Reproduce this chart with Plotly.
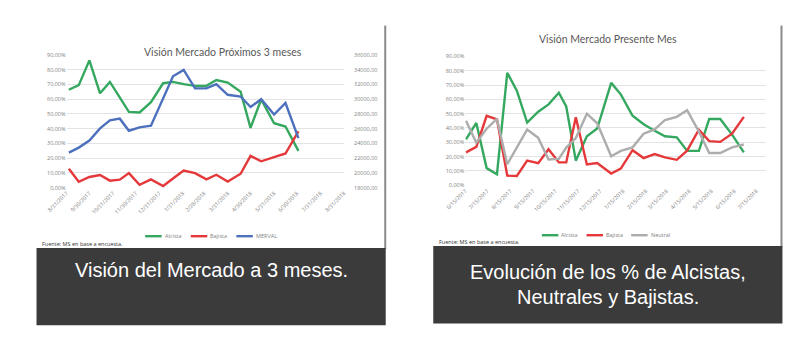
import datetime as dt
import plotly.graph_objects as go

# ---------------- data: market view, next 3 months (left chart) ----------------
dates_3m = ["2017-09-03", "2017-09-16", "2017-09-30", "2017-10-14", "2017-10-27",
            "2017-11-09", "2017-11-21", "2017-12-05", "2017-12-20", "2018-01-05",
            "2018-01-18", "2018-02-01", "2018-02-16", "2018-03-03", "2018-03-16",
            "2018-03-31", "2018-04-17", "2018-04-30", "2018-05-14", "2018-05-31",
            "2018-06-15", "2018-07-02"]
alcista_3m = [66.4, 69.5, 86.3, 64.0, 71.7, 61.5, 51.4, 51.0, 58.0, 70.8, 71.7,
              70.2, 69.0, 69.0, 73.0, 71.3, 65.0, 40.6, 59.8, 43.7, 41.5, 25.0]
bajista_3m = [12.8, 4.0, 7.3, 8.6, 4.8, 5.5, 9.9, 2.0, 5.7, 1.2, 6.3,
              11.7, 9.9, 5.7, 8.8, 4.2, 9.5, 21.6, 17.9, 20.5, 23.2, 38.2]
merval = [22760, 23440, 24400, 26040, 27120, 27360, 25720, 26180, 26400, 30200, 33100,
          33960, 31460, 31460, 32040, 30600, 30360, 28940, 30000, 27920, 29480, 24720]
ticks_3m = ["2017-08-31", "2017-09-30", "2017-10-31", "2017-11-30", "2017-12-31",
            "2018-01-31", "2018-02-28", "2018-03-31", "2018-04-30", "2018-05-31",
            "2018-06-30", "2018-07-31", "2018-08-31"]

# ---------------- data: market view, current month (right chart) ----------------
dates_mes = ["2017-06-16", "2017-06-30", "2017-07-14", "2017-07-28", "2017-08-11",
             "2017-08-24", "2017-09-07", "2017-09-22", "2017-10-06", "2017-10-20",
             "2017-10-30", "2017-11-12", "2017-11-27", "2017-12-11", "2017-12-30",
             "2018-01-12", "2018-01-28", "2018-02-12", "2018-02-27", "2018-03-13",
             "2018-03-29", "2018-04-12", "2018-04-28", "2018-05-12", "2018-05-27",
             "2018-06-12", "2018-06-28"]
alcista_mes = [32.0, 43.5, 12.0, 7.7, 78.5, 66.0, 43.8, 51.4, 56.5, 64.6, 55.0, 17.2,
               34.2, 39.6, 71.5, 63.5, 48.5, 42.6, 38.1, 34.2, 33.5, 24.0, 24.0,
               46.3, 46.3, 35.4, 23.0]
bajista_mes = [23.0, 26.8, 48.5, 46.0, 6.8, 6.5, 17.2, 15.5, 25.2, 16.0, 16.0, 47.5,
               14.5, 15.5, 8.2, 11.6, 24.5, 19.0, 21.8, 19.5, 17.8, 24.2, 38.8,
               30.8, 30.3, 36.0, 47.8]
neutral_mes = [45.0, 29.7, 39.5, 46.3, 14.7, 26.5, 39.0, 33.1, 18.0, 18.4, 26.3, 33.0,
               50.0, 43.3, 20.3, 24.0, 26.5, 36.0, 39.0, 45.6, 47.8, 52.4, 37.5,
               22.5, 22.5, 26.5, 28.5]
ticks_mes = ["2017-06-15", "2017-07-15", "2017-08-15", "2017-09-15", "2017-10-15",
             "2017-11-15", "2017-12-15", "2018-01-15", "2018-02-15", "2018-03-15",
             "2018-04-15", "2018-05-15", "2018-06-15", "2018-07-15"]

pct_ticks = [0, 10, 20, 30, 40, 50, 60, 70, 80, 90]
pct_labels = [f"{v},00%" for v in pct_ticks]
merval_ticks = [18000, 20000, 22000, 24000, 26000, 28000, 30000, 32000, 34000, 36000]
merval_labels = [f"{v},00" for v in merval_ticks]

GREEN, RED, BLUE, GREY = "#35a860", "#e5383b", "#4d70bd", "#adadad"
W, H = 800, 345
TXT = "#595959"
SMALL = dict(family="Open Sans, Lato, sans-serif", size=5.5, color="#7f7f7f")


def px_x(p):
    return p / W


def px_y(p):
    return 1 - p / H


def us_date(s):
    d = dt.date.fromisoformat(s)
    return f"{d.month}/{d.day}/{d.year}"


fig = go.Figure()
lw = 2.4
fig.add_trace(go.Scatter(x=dates_3m, y=alcista_3m, name="Alcista", mode="lines",
                         line=dict(color=GREEN, width=lw), xaxis="x", yaxis="y"))
fig.add_trace(go.Scatter(x=dates_3m, y=bajista_3m, name="Bajista", mode="lines",
                         line=dict(color=RED, width=lw), xaxis="x", yaxis="y"))
fig.add_trace(go.Scatter(x=dates_3m, y=merval, name="MERVAL", mode="lines",
                         line=dict(color=BLUE, width=lw), xaxis="x", yaxis="y2"))

fig.add_trace(go.Scatter(x=dates_mes, y=alcista_mes, name="Alcista", mode="lines",
                         line=dict(color=GREEN, width=lw), xaxis="x3", yaxis="y3"))
fig.add_trace(go.Scatter(x=dates_mes, y=bajista_mes, name="Bajista", mode="lines",
                         line=dict(color=RED, width=lw), xaxis="x3", yaxis="y3"))
fig.add_trace(go.Scatter(x=dates_mes, y=neutral_mes, name="Neutral", mode="lines",
                         line=dict(color=GREY, width=lw), xaxis="x3", yaxis="y3"))

grid = "#e3e3e3"
date_axis = dict(type="date", showgrid=False, zeroline=False, showline=False,
                 tickangle=-45, tickfont=SMALL, ticks="")
pct_axis = dict(range=[-0.3, 90.3], tickvals=pct_ticks, ticktext=pct_labels,
                showgrid=True, gridcolor=grid, gridwidth=1, zeroline=False,
                showline=False, tickfont=SMALL, ticks="")

fig.update_layout(
    width=W, height=H, margin=dict(l=0, r=0, t=0, b=0),
    paper_bgcolor="white", plot_bgcolor="white", showlegend=False,
    xaxis=dict(date_axis, domain=[px_x(47), px_x(333)], anchor="y",
               range=[ticks_3m[0], ticks_3m[-1]],
               tickvals=ticks_3m, ticktext=[us_date(t) for t in ticks_3m]),
    yaxis=dict(pct_axis, domain=[px_y(188), px_y(51.5)], anchor="x"),
    yaxis2=dict(range=[18000 - 60, 36000 + 60], tickvals=merval_ticks,
                ticktext=merval_labels,
                overlaying="y", side="right", anchor="x", showgrid=False,
                zeroline=False, showline=False, tickfont=SMALL, ticks="",
                ticklabelstandoff=9),
    xaxis3=dict(date_axis, domain=[px_x(458), px_x(768)], anchor="y3",
                range=["2017-06-15", "2018-07-28"],
                tickvals=ticks_mes, ticktext=[us_date(t) for t in ticks_mes]),
    yaxis3=dict(pct_axis, domain=[px_y(185.5), px_y(53)], anchor="x3"),
)

shapes = []
annotations = []

# panel edges
shapes.append(dict(type="line", xref="paper", yref="paper", x0=px_x(375.5), x1=px_x(375.5),
                   y0=px_y(22), y1=px_y(250), line=dict(color="#8a8a8a", width=2)))
shapes.append(dict(type="line", xref="paper", yref="paper", x0=px_x(784), x1=px_x(784),
                   y0=px_y(22), y1=px_y(248), line=dict(color="#8a8a8a", width=2)))

# dark caption boxes
shapes.append(dict(type="rect", xref="paper", yref="paper", x0=px_x(16), x1=px_x(376),
                   y0=px_y(328), y1=px_y(249), fillcolor="#3b3b3b", line=dict(width=0)))
shapes.append(dict(type="rect", xref="paper", yref="paper", x0=px_x(425), x1=px_x(785),
                   y0=px_y(326), y1=px_y(247), fillcolor="#3b3b3b", line=dict(width=0)))

CAP = dict(family="Liberation Sans Narrow, Arial Narrow, Liberation Sans, sans-serif",
           size=20, color="white")
annotations.append(dict(text="Visión del Mercado a 3 meses.", x=px_x(196), y=px_y(272),
                        xref="paper", yref="paper", showarrow=False, font=CAP,
                        xanchor="center", yanchor="middle"))
annotations.append(dict(text="Evolución de los % de Alcistas,", x=px_x(605), y=px_y(274),
                        xref="paper", yref="paper", showarrow=False, font=CAP,
                        xanchor="center", yanchor="middle"))
annotations.append(dict(text="Neutrales y Bajistas.", x=px_x(605), y=px_y(299),
                        xref="paper", yref="paper", showarrow=False, font=CAP,
                        xanchor="center", yanchor="middle"))

# chart titles
TITLE = dict(family="Lato, Open Sans, sans-serif", size=10.5, color=TXT)
annotations.append(dict(text="Visión Mercado Próximos 3 meses", x=px_x(208), y=px_y(49),
                        xref="paper", yref="paper", showarrow=False, font=TITLE,
                        xanchor="center", yanchor="middle"))
annotations.append(dict(text="Visión Mercado Presente Mes", x=px_x(605), y=px_y(36),
                        xref="paper", yref="paper", showarrow=False, font=TITLE,
                        xanchor="center", yanchor="middle"))

# source notes
SRC = dict(family="Open Sans, Lato, sans-serif", size=5.5, color="#333333")
annotations.append(dict(text="Fuente: MS en base a encuesta.", x=px_x(20), y=px_y(245),
                        xref="paper", yref="paper", showarrow=False, font=SRC,
                        xanchor="left", yanchor="middle"))
annotations.append(dict(text="Fuente: MS en base a encuesta.", x=px_x(429), y=px_y(243),
                        xref="paper", yref="paper", showarrow=False, font=SRC,
                        xanchor="left", yanchor="middle"))


# legends: short line sample followed by series name
def legend_row(items, x_start, y, gap):
    x = x_start
    for name, color in items:
        shapes.append(dict(type="line", xref="paper", yref="paper", x0=px_x(x),
                           x1=px_x(x + 17), y0=px_y(y), y1=px_y(y),
                           line=dict(color=color, width=2.4)))
        annotations.append(dict(text=name, x=px_x(x + 18), y=px_y(y), xref="paper",
                                yref="paper", showarrow=False, font=SMALL,
                                xanchor="left", yanchor="middle"))
        x += gap


legend_row([("Alcista", GREEN), ("Bajista", RED), ("MERVAL", BLUE)], 128, 237, 47)
legend_row([("Alcista", GREEN), ("Bajista", RED), ("Neutral", GREY)], 537, 236, 46)

fig.update_layout(shapes=shapes, annotations=annotations)
fig.write_html("out.html")
